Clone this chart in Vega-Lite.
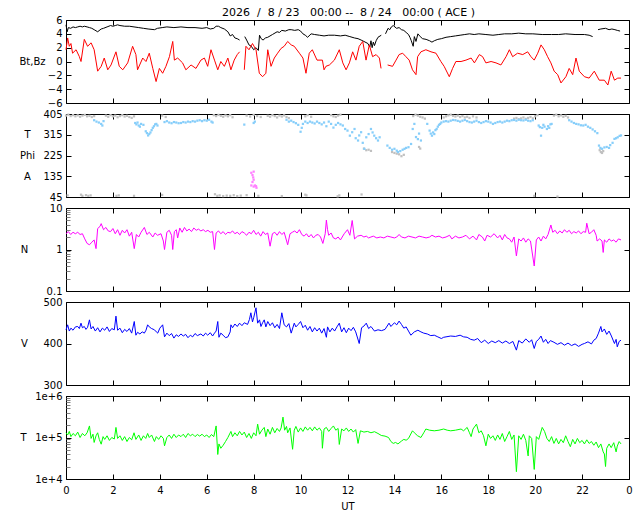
{
  "$schema": "https://vega.github.io/schema/vega-lite/v6.json",
  "background": "white",
  "padding": {"left": 18, "top": 6, "right": 5, "bottom": 5},
  "title": {
    "text": "2026\u00a0 /\u00a0 8 / 23\u00a0\u00a0 00:00 --\u00a0 8 / 24\u00a0\u00a0 00:00 ( ACE )",
    "font": "DejaVu Sans",
    "fontSize": 11,
    "fontWeight": "normal",
    "color": "black",
    "anchor": "middle",
    "dx": 23,
    "offset": -3
  },
  "datasets": {
    "bt": [
      {"t":0,"v":5.3},{"t":0.05,"v":4.3},{"t":0.1,"v":4.9},{"t":0.2,"v":4.8},{"t":0.3,"v":5.0},{"t":0.4,"v":4.9},{"t":0.5,"v":5.0},{"t":0.6,"v":5.1},{"t":0.7,"v":5.0},{"t":0.78,"v":5.1},{"t":0.9,"v":5.0},{"t":1.0,"v":4.9},{"t":1.1,"v":4.8},{"t":1.2,"v":4.6},{"t":1.35,"v":4.3},{"t":1.5,"v":4.7},{"t":1.6,"v":4.8},{"t":1.75,"v":5.0},{"t":1.9,"v":5.2},{"t":2.0,"v":5.1},{"t":2.1,"v":5.2},{"t":2.2,"v":5.3},{"t":2.3,"v":5.2},{"t":2.5,"v":5.1},{"t":2.7,"v":5.1},{"t":2.9,"v":5.0},{"t":3.1,"v":4.9},{"t":3.3,"v":4.8},{"t":3.5,"v":4.7},{"t":3.77,"v":4.6},{"t":3.9,"v":4.8},{"t":4.1,"v":4.9},{"t":4.3,"v":5.0},{"t":4.6,"v":4.9},{"t":4.9,"v":5.0},{"t":5.2,"v":4.9},{"t":5.5,"v":4.9},{"t":5.8,"v":4.8},{"t":6.0,"v":4.9},{"t":6.15,"v":4.7},{"t":6.3,"v":4.8},{"t":6.4,"v":5.1},{"t":6.5,"v":5.1},{"t":6.6,"v":4.9},{"t":6.75,"v":4.7},{"t":6.9,"v":4.3},{"t":7.0,"v":3.7},{"t":7.1,"v":3.9},{"t":7.2,"v":3.4},{"t":7.3,"v":3.3},{"t":7.4,"v":3.1},{"t":7.45,"v":null},{"t":7.62,"v":3.6},{"t":7.7,"v":3.1},{"t":7.8,"v":2.4},{"t":7.9,"v":2.2},{"t":8.0,"v":1.7},{"t":8.1,"v":2.0},{"t":8.2,"v":1.6},{"t":8.25,"v":3.8},{"t":8.32,"v":3.3},{"t":8.4,"v":3.1},{"t":8.5,"v":3.4},{"t":8.6,"v":3.5},{"t":8.8,"v":3.9},{"t":9.0,"v":4.3},{"t":9.1,"v":4.2},{"t":9.2,"v":4.5},{"t":9.35,"v":4.4},{"t":9.5,"v":4.6},{"t":9.6,"v":4.6},{"t":9.75,"v":4.5},{"t":9.9,"v":4.6},{"t":10.0,"v":4.4},{"t":10.1,"v":4.0},{"t":10.2,"v":3.8},{"t":10.3,"v":3.5},{"t":10.45,"v":4.0},{"t":10.6,"v":3.9},{"t":10.8,"v":3.8},{"t":11.0,"v":3.7},{"t":11.2,"v":3.8},{"t":11.44,"v":3.8},{"t":11.7,"v":3.7},{"t":11.9,"v":3.8},{"t":12.1,"v":3.6},{"t":12.3,"v":3.4},{"t":12.45,"v":3.3},{"t":12.58,"v":3.1},{"t":12.7,"v":2.9},{"t":12.87,"v":2.6},{"t":12.95,"v":2.1},{"t":13.0,"v":3.0},{"t":13.05,"v":2.0},{"t":13.1,"v":2.8},{"t":13.15,"v":2.3},{"t":13.22,"v":3.0},{"t":13.3,"v":3.5},{"t":13.44,"v":3.8},{"t":13.5,"v":null},{"t":13.62,"v":4.0},{"t":13.73,"v":4.8},{"t":13.8,"v":4.6},{"t":13.87,"v":5.0},{"t":13.95,"v":5.2},{"t":14.09,"v":4.8},{"t":14.2,"v":4.9},{"t":14.3,"v":4.6},{"t":14.4,"v":4.5},{"t":14.5,"v":4.2},{"t":14.6,"v":3.9},{"t":14.66,"v":3.5},{"t":14.72,"v":3.0},{"t":14.8,"v":2.2},{"t":14.85,"v":3.6},{"t":14.92,"v":2.9},{"t":15.0,"v":4.0},{"t":15.1,"v":3.6},{"t":15.2,"v":3.3},{"t":15.35,"v":3.2},{"t":15.5,"v":3.0},{"t":15.6,"v":2.8},{"t":15.7,"v":3.0},{"t":15.85,"v":3.2},{"t":16.0,"v":3.3},{"t":16.2,"v":3.5},{"t":16.4,"v":3.6},{"t":16.6,"v":3.7},{"t":16.8,"v":3.8},{"t":17.0,"v":3.9},{"t":17.2,"v":4.0},{"t":17.4,"v":3.9},{"t":17.6,"v":4.0},{"t":17.9,"v":3.9},{"t":18.2,"v":3.8},{"t":18.45,"v":3.9},{"t":18.7,"v":4.0},{"t":19.0,"v":4.0},{"t":19.3,"v":4.1},{"t":19.6,"v":4.0},{"t":19.9,"v":4.0},{"t":20.3,"v":3.9},{"t":20.7,"v":3.9},{"t":21.0,"v":3.9},{"t":21.3,"v":4.0},{"t":21.7,"v":3.9},{"t":22.1,"v":3.9},{"t":22.3,"v":3.8},{"t":22.45,"v":3.6},{"t":22.55,"v":null},{"t":22.68,"v":4.6},{"t":22.8,"v":4.7},{"t":23.0,"v":4.8},{"t":23.15,"v":4.6},{"t":23.27,"v":4.7},{"t":23.4,"v":4.6},{"t":23.5,"v":4.5},{"t":23.62,"v":4.4}
    ],
    "bz": [
      {"t":0,"v":1.7},{"t":0.07,"v":3.4},{"t":0.14,"v":2.2},{"t":0.21,"v":2.6},{"t":0.28,"v":1.2},{"t":0.43,"v":1.7},{"t":0.57,"v":0.7},{"t":0.64,"v":0},{"t":0.78,"v":3.2},{"t":0.92,"v":2.2},{"t":1.07,"v":2.7},{"t":1.2,"v":1.7},{"t":1.35,"v":-1.4},{"t":1.5,"v":-0.7},{"t":1.63,"v":0.5},{"t":1.78,"v":-1.2},{"t":1.92,"v":-0.5},{"t":2.13,"v":1.4},{"t":2.27,"v":-0.7},{"t":2.42,"v":-1.2},{"t":2.63,"v":-0.2},{"t":2.84,"v":2.2},{"t":2.98,"v":1.0},{"t":3.05,"v":-1.2},{"t":3.27,"v":0.5},{"t":3.41,"v":0},{"t":3.55,"v":1.2},{"t":3.7,"v":-1.0},{"t":3.84,"v":-2.9},{"t":3.98,"v":-1.0},{"t":4.12,"v":-1.7},{"t":4.26,"v":-0.7},{"t":4.41,"v":0.7},{"t":4.55,"v":2.9},{"t":4.62,"v":0.2},{"t":4.76,"v":0.5},{"t":4.97,"v":-0.2},{"t":5.11,"v":-1.2},{"t":5.33,"v":-0.5},{"t":5.54,"v":-1.0},{"t":5.75,"v":0.2},{"t":5.9,"v":0.5},{"t":6.04,"v":-0.7},{"t":6.18,"v":1.7},{"t":6.33,"v":0.2},{"t":6.47,"v":-1.2},{"t":6.6,"v":0},{"t":6.75,"v":-0.7},{"t":6.9,"v":0.5},{"t":7.03,"v":-1.2},{"t":7.17,"v":0.2},{"t":7.3,"v":1.0},{"t":7.4,"v":1.4},{"t":7.5,"v":null},{"t":7.6,"v":-1.2},{"t":7.67,"v":2.2},{"t":7.8,"v":1.7},{"t":7.95,"v":2.6},{"t":8.1,"v":1.7},{"t":8.24,"v":-1.7},{"t":8.38,"v":-2.2},{"t":8.52,"v":-1.7},{"t":8.6,"v":1.7},{"t":8.74,"v":-0.7},{"t":8.88,"v":0.5},{"t":9.02,"v":1.2},{"t":9.17,"v":1.9},{"t":9.3,"v":2.2},{"t":9.45,"v":2.9},{"t":9.6,"v":2.4},{"t":9.73,"v":2.2},{"t":9.95,"v":1.2},{"t":10.1,"v":0.5},{"t":10.23,"v":-1.7},{"t":10.37,"v":1.2},{"t":10.5,"v":1.7},{"t":10.7,"v":0.2},{"t":10.93,"v":0.2},{"t":11.0,"v":-1.2},{"t":11.08,"v":-0.7},{"t":11.23,"v":-0.5},{"t":11.44,"v":0.2},{"t":11.65,"v":1.7},{"t":11.8,"v":-0.2},{"t":11.94,"v":-1.2},{"t":12.08,"v":-0.2},{"t":12.22,"v":1.4},{"t":12.36,"v":0.2},{"t":12.5,"v":2.2},{"t":12.65,"v":2.9},{"t":12.79,"v":0.2},{"t":12.93,"v":2.4},{"t":13.07,"v":0.7},{"t":13.22,"v":1.0},{"t":13.36,"v":0.5},{"t":13.43,"v":-1.0},{"t":13.55,"v":null},{"t":13.71,"v":-0.5},{"t":13.92,"v":-0.7},{"t":14.07,"v":0.2},{"t":14.2,"v":1.0},{"t":14.35,"v":1.2},{"t":14.49,"v":0.7},{"t":14.63,"v":0.2},{"t":14.77,"v":-1.2},{"t":14.92,"v":-1.9},{"t":14.99,"v":0.7},{"t":15.13,"v":1.4},{"t":15.34,"v":1.7},{"t":15.56,"v":1.4},{"t":15.77,"v":1.2},{"t":15.98,"v":0},{"t":16.12,"v":-0.7},{"t":16.34,"v":-2.2},{"t":16.48,"v":-1.0},{"t":16.62,"v":0},{"t":16.84,"v":0},{"t":17.05,"v":0.2},{"t":17.27,"v":0.5},{"t":17.41,"v":-0.2},{"t":17.62,"v":1.0},{"t":17.76,"v":0.7},{"t":17.9,"v":-0.2},{"t":18.12,"v":0},{"t":18.33,"v":-0.2},{"t":18.54,"v":-0.5},{"t":18.76,"v":0.7},{"t":18.9,"v":1.7},{"t":19.04,"v":0.7},{"t":19.25,"v":1.2},{"t":19.47,"v":1.0},{"t":19.68,"v":1.4},{"t":19.82,"v":0.7},{"t":19.96,"v":0.2},{"t":20.11,"v":1.2},{"t":20.25,"v":2.4},{"t":20.39,"v":1.7},{"t":20.53,"v":0.7},{"t":20.67,"v":-0.2},{"t":20.81,"v":-1.4},{"t":20.96,"v":-1.9},{"t":21.1,"v":-3.1},{"t":21.31,"v":-2.2},{"t":21.45,"v":-1.0},{"t":21.6,"v":-1.9},{"t":21.74,"v":0.5},{"t":21.88,"v":-1.4},{"t":22.1,"v":-2.2},{"t":22.3,"v":-2.4},{"t":22.52,"v":-1.4},{"t":22.73,"v":-2.7},{"t":22.95,"v":-2.7},{"t":23.1,"v":-3.4},{"t":23.24,"v":-1.4},{"t":23.38,"v":-2.7},{"t":23.52,"v":-2.4},{"t":23.66,"v":-2.4}
    ],
    "phi": [
      {"t":0,"v":398,"c":"g"},{"t":0.1,"v":402,"c":"g"},{"t":0.2,"v":396,"c":"g"},{"t":0.3,"v":400,"c":"g"},{"t":0.4,"v":395,"c":"g"},{"t":0.5,"v":399,"c":"g"},{"t":0.6,"v":393,"c":"g"},{"t":0.7,"v":398,"c":"g"},{"t":0.8,"v":401,"c":"g"},{"t":0.9,"v":395,"c":"g"},{"t":1.0,"v":397,"c":"g"},{"t":1.1,"v":392,"c":"g"},{"t":1.2,"v":396,"c":"g"},{"t":1.7,"v":398,"c":"g"},{"t":1.8,"v":393,"c":"g"},{"t":1.9,"v":400,"c":"g"},{"t":2.0,"v":395,"c":"g"},{"t":2.1,"v":398,"c":"g"},{"t":2.2,"v":391,"c":"g"},{"t":2.3,"v":396,"c":"g"},{"t":2.4,"v":400,"c":"g"},{"t":2.5,"v":394,"c":"g"},{"t":2.6,"v":397,"c":"g"},{"t":2.7,"v":392,"c":"g"},{"t":2.8,"v":388,"c":"g"},{"t":2.9,"v":395,"c":"g"},{"t":4.1,"v":398,"c":"g"},{"t":4.25,"v":392,"c":"g"},{"t":6.3,"v":400,"c":"g"},{"t":6.4,"v":396,"c":"g"},{"t":6.5,"v":401,"c":"g"},{"t":6.6,"v":397,"c":"g"},{"t":6.7,"v":393,"c":"g"},{"t":6.8,"v":399,"c":"g"},{"t":6.9,"v":395,"c":"g"},{"t":7.0,"v":400,"c":"g"},{"t":7.1,"v":391,"c":"g"},{"t":7.7,"v":398,"c":"g"},{"t":7.85,"v":394,"c":"g"},{"t":8.0,"v":401,"c":"g"},{"t":8.15,"v":396,"c":"g"},{"t":8.3,"v":392,"c":"g"},{"t":8.6,"v":397,"c":"g"},{"t":8.7,"v":393,"c":"g"},{"t":8.8,"v":400,"c":"g"},{"t":8.9,"v":396,"c":"g"},{"t":9.0,"v":390,"c":"g"},{"t":9.1,"v":398,"c":"g"},{"t":9.2,"v":394,"c":"g"},{"t":9.3,"v":399,"c":"g"},{"t":9.4,"v":392,"c":"g"},{"t":9.5,"v":387,"c":"g"},{"t":10.2,"v":395,"c":"g"},{"t":10.3,"v":400,"c":"g"},{"t":10.45,"v":393,"c":"g"},{"t":11.3,"v":400,"c":"g"},{"t":11.4,"v":395,"c":"g"},{"t":11.5,"v":392,"c":"g"},{"t":11.6,"v":398,"c":"g"},{"t":11.7,"v":402,"c":"g"},{"t":12.7,"v":255,"c":"g"},{"t":12.8,"v":248,"c":"g"},{"t":12.9,"v":250,"c":"g"},{"t":13.0,"v":245,"c":"g"},{"t":13.9,"v":240,"c":"g"},{"t":14.0,"v":236,"c":"g"},{"t":14.1,"v":233,"c":"g"},{"t":14.2,"v":230,"c":"g"},{"t":14.3,"v":222,"c":"g"},{"t":14.4,"v":228,"c":"g"},{"t":14.8,"v":396,"c":"g"},{"t":14.9,"v":402,"c":"g"},{"t":15.0,"v":398,"c":"g"},{"t":15.1,"v":393,"c":"g"},{"t":15.2,"v":390,"c":"g"},{"t":15.3,"v":385,"c":"g"},{"t":15.1,"v":255,"c":"g"},{"t":15.05,"v":262,"c":"g"},{"t":16.1,"v":390,"c":"g"},{"t":16.2,"v":395,"c":"g"},{"t":16.3,"v":399,"c":"g"},{"t":16.4,"v":402,"c":"g"},{"t":16.5,"v":397,"c":"g"},{"t":16.6,"v":394,"c":"g"},{"t":16.7,"v":398,"c":"g"},{"t":16.8,"v":392,"c":"g"},{"t":16.9,"v":396,"c":"g"},{"t":17.0,"v":390,"c":"g"},{"t":17.1,"v":393,"c":"g"},{"t":17.2,"v":388,"c":"g"},{"t":17.35,"v":395,"c":"g"},{"t":17.5,"v":390,"c":"g"},{"t":19.1,"v":385,"c":"g"},{"t":19.2,"v":388,"c":"g"},{"t":19.3,"v":383,"c":"g"},{"t":19.4,"v":386,"c":"g"},{"t":19.5,"v":390,"c":"g"},{"t":19.6,"v":384,"c":"g"},{"t":19.7,"v":388,"c":"g"},{"t":19.8,"v":392,"c":"g"},{"t":19.9,"v":386,"c":"g"},{"t":20.0,"v":395,"c":"g"},{"t":20.1,"v":400,"c":"g"},{"t":20.8,"v":398,"c":"g"},{"t":20.9,"v":402,"c":"g"},{"t":21.0,"v":395,"c":"g"},{"t":21.1,"v":399,"c":"g"},{"t":21.2,"v":393,"c":"g"},{"t":21.3,"v":397,"c":"g"},{"t":21.4,"v":390,"c":"g"},{"t":22.75,"v":248,"c":"g"},{"t":22.8,"v":240,"c":"g"},{"t":22.85,"v":236,"c":"g"},{"t":22.9,"v":244,"c":"g"},
      {"t":0.07,"v":52,"c":"g"},{"t":0.64,"v":55,"c":"g"},{"t":0.7,"v":50,"c":"g"},{"t":0.85,"v":53,"c":"g"},{"t":0.95,"v":50,"c":"g"},{"t":1.05,"v":52,"c":"g"},{"t":2.15,"v":50,"c":"g"},{"t":2.25,"v":52,"c":"g"},{"t":2.9,"v":50,"c":"g"},{"t":4.1,"v":54,"c":"g"},{"t":6.35,"v":57,"c":"g"},{"t":6.45,"v":50,"c":"g"},{"t":6.55,"v":52,"c":"g"},{"t":6.7,"v":49,"c":"g"},{"t":6.85,"v":51,"c":"g"},{"t":7.0,"v":50,"c":"g"},{"t":7.15,"v":53,"c":"g"},{"t":7.3,"v":49,"c":"g"},{"t":7.45,"v":51,"c":"g"},{"t":7.7,"v":53,"c":"g"},{"t":8.2,"v":50,"c":"g"},{"t":9.2,"v":49,"c":"g"},{"t":10.2,"v":55,"c":"g"},{"t":10.25,"v":52,"c":"g"},{"t":11.58,"v":48,"c":"g"},{"t":11.65,"v":52,"c":"g"},{"t":12.6,"v":56,"c":"g"},{"t":19.96,"v":50,"c":"g"},{"t":20.95,"v":47,"c":"g"},
      {"t":1.2,"v":378,"c":"b"},{"t":1.3,"v":372,"c":"b"},{"t":1.4,"v":368,"c":"b"},{"t":1.5,"v":362,"c":"b"},{"t":1.55,"v":355,"c":"b"},{"t":1.6,"v":374,"c":"b"},{"t":2.95,"v":366,"c":"b"},{"t":3.0,"v":360,"c":"b"},{"t":3.05,"v":368,"c":"b"},{"t":3.1,"v":355,"c":"b"},{"t":3.15,"v":350,"c":"b"},{"t":3.2,"v":362,"c":"b"},{"t":3.3,"v":358,"c":"b"},{"t":3.4,"v":330,"c":"b"},{"t":3.45,"v":322,"c":"b"},{"t":3.5,"v":312,"c":"b"},{"t":3.55,"v":318,"c":"b"},{"t":3.6,"v":325,"c":"b"},{"t":3.65,"v":335,"c":"b"},{"t":3.7,"v":345,"c":"b"},{"t":3.75,"v":352,"c":"b"},{"t":3.8,"v":360,"c":"b"},{"t":3.85,"v":362,"c":"b"},{"t":3.9,"v":355,"c":"b"},{"t":4.2,"v":370,"c":"b"},{"t":4.3,"v":374,"c":"b"},{"t":4.4,"v":368,"c":"b"},{"t":4.5,"v":365,"c":"b"},{"t":4.6,"v":370,"c":"b"},{"t":4.7,"v":368,"c":"b"},{"t":4.8,"v":365,"c":"b"},{"t":4.9,"v":366,"c":"b"},{"t":5.0,"v":370,"c":"b"},{"t":5.1,"v":368,"c":"b"},{"t":5.2,"v":372,"c":"b"},{"t":5.3,"v":370,"c":"b"},{"t":5.4,"v":374,"c":"b"},{"t":5.5,"v":372,"c":"b"},{"t":5.6,"v":376,"c":"b"},{"t":5.7,"v":378,"c":"b"},{"t":5.8,"v":374,"c":"b"},{"t":5.9,"v":378,"c":"b"},{"t":6.0,"v":376,"c":"b"},{"t":6.1,"v":380,"c":"b"},{"t":6.2,"v":372,"c":"b"},{"t":6.25,"v":368,"c":"b"},{"t":7.6,"v":359,"c":"b"},{"t":8.0,"v":366,"c":"b"},{"t":8.05,"v":372,"c":"b"},{"t":9.4,"v":380,"c":"b"},{"t":9.5,"v":372,"c":"b"},{"t":9.6,"v":376,"c":"b"},{"t":9.7,"v":370,"c":"b"},{"t":9.8,"v":365,"c":"b"},{"t":9.9,"v":358,"c":"b"},{"t":10.0,"v":328,"c":"b"},{"t":10.05,"v":345,"c":"b"},{"t":10.1,"v":362,"c":"b"},{"t":10.2,"v":372,"c":"b"},{"t":10.3,"v":366,"c":"b"},{"t":10.4,"v":372,"c":"b"},{"t":10.5,"v":368,"c":"b"},{"t":10.6,"v":364,"c":"b"},{"t":10.7,"v":372,"c":"b"},{"t":10.8,"v":366,"c":"b"},{"t":10.9,"v":360,"c":"b"},{"t":11.0,"v":368,"c":"b"},{"t":11.1,"v":352,"c":"b"},{"t":11.2,"v":372,"c":"b"},{"t":11.3,"v":362,"c":"b"},{"t":11.4,"v":346,"c":"b"},{"t":11.5,"v":358,"c":"b"},{"t":11.6,"v":366,"c":"b"},{"t":11.7,"v":360,"c":"b"},{"t":11.8,"v":355,"c":"b"},{"t":11.9,"v":340,"c":"b"},{"t":12.0,"v":333,"c":"b"},{"t":12.1,"v":311,"c":"b"},{"t":12.2,"v":326,"c":"b"},{"t":12.3,"v":340,"c":"b"},{"t":12.35,"v":300,"c":"b"},{"t":12.45,"v":290,"c":"b"},{"t":12.5,"v":312,"c":"b"},{"t":12.58,"v":326,"c":"b"},{"t":12.65,"v":280,"c":"b"},{"t":12.72,"v":254,"c":"b"},{"t":12.8,"v":304,"c":"b"},{"t":12.9,"v":318,"c":"b"},{"t":13.0,"v":340,"c":"b"},{"t":13.07,"v":325,"c":"b"},{"t":13.14,"v":311,"c":"b"},{"t":13.22,"v":300,"c":"b"},{"t":13.3,"v":290,"c":"b"},{"t":13.37,"v":304,"c":"b"},{"t":13.7,"v":268,"c":"b"},{"t":13.8,"v":258,"c":"b"},{"t":13.9,"v":250,"c":"b"},{"t":14.0,"v":254,"c":"b"},{"t":14.1,"v":246,"c":"b"},{"t":14.15,"v":240,"c":"b"},{"t":14.25,"v":244,"c":"b"},{"t":14.35,"v":250,"c":"b"},{"t":14.43,"v":254,"c":"b"},{"t":14.5,"v":258,"c":"b"},{"t":14.6,"v":261,"c":"b"},{"t":14.71,"v":275,"c":"b"},{"t":14.78,"v":340,"c":"b"},{"t":14.85,"v":362,"c":"b"},{"t":14.92,"v":305,"c":"b"},{"t":15.0,"v":296,"c":"b"},{"t":15.05,"v":320,"c":"b"},{"t":15.13,"v":290,"c":"b"},{"t":15.4,"v":362,"c":"b"},{"t":15.5,"v":333,"c":"b"},{"t":15.55,"v":320,"c":"b"},{"t":15.6,"v":311,"c":"b"},{"t":15.65,"v":325,"c":"b"},{"t":15.7,"v":318,"c":"b"},{"t":15.75,"v":335,"c":"b"},{"t":15.8,"v":340,"c":"b"},{"t":15.85,"v":350,"c":"b"},{"t":15.9,"v":358,"c":"b"},{"t":15.95,"v":362,"c":"b"},{"t":16.0,"v":368,"c":"b"},{"t":16.1,"v":372,"c":"b"},{"t":16.2,"v":374,"c":"b"},{"t":16.3,"v":372,"c":"b"},{"t":16.4,"v":376,"c":"b"},{"t":16.5,"v":379,"c":"b"},{"t":16.6,"v":378,"c":"b"},{"t":16.7,"v":375,"c":"b"},{"t":16.8,"v":372,"c":"b"},{"t":16.9,"v":376,"c":"b"},{"t":17.0,"v":379,"c":"b"},{"t":17.1,"v":374,"c":"b"},{"t":17.2,"v":370,"c":"b"},{"t":17.3,"v":368,"c":"b"},{"t":17.4,"v":372,"c":"b"},{"t":17.5,"v":376,"c":"b"},{"t":17.6,"v":370,"c":"b"},{"t":17.7,"v":366,"c":"b"},{"t":17.8,"v":370,"c":"b"},{"t":17.9,"v":374,"c":"b"},{"t":18.0,"v":372,"c":"b"},{"t":18.1,"v":368,"c":"b"},{"t":18.2,"v":362,"c":"b"},{"t":18.3,"v":366,"c":"b"},{"t":18.4,"v":370,"c":"b"},{"t":18.5,"v":372,"c":"b"},{"t":18.6,"v":368,"c":"b"},{"t":18.7,"v":372,"c":"b"},{"t":18.8,"v":376,"c":"b"},{"t":18.9,"v":374,"c":"b"},{"t":19.0,"v":378,"c":"b"},{"t":19.1,"v":379,"c":"b"},{"t":19.2,"v":376,"c":"b"},{"t":19.3,"v":380,"c":"b"},{"t":19.4,"v":378,"c":"b"},{"t":19.5,"v":377,"c":"b"},{"t":19.6,"v":380,"c":"b"},{"t":19.7,"v":376,"c":"b"},{"t":19.8,"v":374,"c":"b"},{"t":19.9,"v":378,"c":"b"},{"t":20.15,"v":355,"c":"b"},{"t":20.2,"v":348,"c":"b"},{"t":20.25,"v":311,"c":"b"},{"t":20.3,"v":345,"c":"b"},{"t":20.35,"v":358,"c":"b"},{"t":20.4,"v":350,"c":"b"},{"t":20.5,"v":340,"c":"b"},{"t":20.55,"v":352,"c":"b"},{"t":20.6,"v":345,"c":"b"},{"t":20.65,"v":360,"c":"b"},{"t":20.7,"v":362,"c":"b"},{"t":21.45,"v":378,"c":"b"},{"t":21.55,"v":372,"c":"b"},{"t":21.65,"v":366,"c":"b"},{"t":21.75,"v":362,"c":"b"},{"t":21.85,"v":360,"c":"b"},{"t":21.95,"v":356,"c":"b"},{"t":22.05,"v":355,"c":"b"},{"t":22.15,"v":358,"c":"b"},{"t":22.25,"v":350,"c":"b"},{"t":22.35,"v":345,"c":"b"},{"t":22.45,"v":338,"c":"b"},{"t":22.55,"v":330,"c":"b"},{"t":22.65,"v":322,"c":"b"},{"t":22.72,"v":268,"c":"b"},{"t":22.78,"v":258,"c":"b"},{"t":22.85,"v":254,"c":"b"},{"t":22.95,"v":260,"c":"b"},{"t":23.05,"v":262,"c":"b"},{"t":23.15,"v":258,"c":"b"},{"t":23.2,"v":270,"c":"b"},{"t":23.3,"v":280,"c":"b"},{"t":23.38,"v":297,"c":"b"},{"t":23.45,"v":300,"c":"b"},{"t":23.52,"v":304,"c":"b"},{"t":23.6,"v":310,"c":"b"},{"t":23.66,"v":312,"c":"b"},
      {"t":7.9,"v":150,"c":"a"},{"t":7.95,"v":140,"c":"a"},{"t":7.98,"v":130,"c":"a"},{"t":8.0,"v":120,"c":"a"},{"t":7.95,"v":110,"c":"a"},{"t":7.9,"v":95,"c":"a"},{"t":8.0,"v":90,"c":"a"},{"t":8.05,"v":95,"c":"a"},{"t":8.1,"v":92,"c":"a"},{"t":8.12,"v":85,"c":"a"},{"t":8.0,"v":155,"c":"a"}
    ],
    "n": [
      {"t":0,"v":2.4},{"t":0.1,"v":2.7},{"t":0.2,"v":2.3},{"t":0.3,"v":2.6},{"t":0.4,"v":2.4},{"t":0.5,"v":2.6},{"t":0.6,"v":2.3},{"t":0.7,"v":2.4},{"t":0.8,"v":1.8},{"t":0.9,"v":1.4},{"t":1.0,"v":1.3},{"t":1.1,"v":1.5},{"t":1.2,"v":1.7},{"t":1.28,"v":1.05},{"t":1.35,"v":3.2},{"t":1.45,"v":3.6},{"t":1.5,"v":4.2},{"t":1.6,"v":3.0},{"t":1.7,"v":3.4},{"t":1.8,"v":2.8},{"t":1.9,"v":2.7},{"t":2.0,"v":3.2},{"t":2.1,"v":2.4},{"t":2.2,"v":3.0},{"t":2.3,"v":2.2},{"t":2.4,"v":2.9},{"t":2.5,"v":2.5},{"t":2.6,"v":3.0},{"t":2.7,"v":2.1},{"t":2.8,"v":2.6},{"t":2.91,"v":1.05},{"t":3.0,"v":2.3},{"t":3.1,"v":2.0},{"t":3.2,"v":2.6},{"t":3.34,"v":3.4},{"t":3.45,"v":2.3},{"t":3.55,"v":2.6},{"t":3.7,"v":2.0},{"t":3.8,"v":2.5},{"t":3.9,"v":2.2},{"t":4.05,"v":2.4},{"t":4.15,"v":1.6},{"t":4.2,"v":1.0},{"t":4.3,"v":2.6},{"t":4.4,"v":2.9},{"t":4.5,"v":2.2},{"t":4.55,"v":1.0},{"t":4.62,"v":2.7},{"t":4.7,"v":3.0},{"t":4.76,"v":1.9},{"t":4.85,"v":3.3},{"t":4.95,"v":2.6},{"t":5.05,"v":3.4},{"t":5.15,"v":2.8},{"t":5.25,"v":3.1},{"t":5.35,"v":2.7},{"t":5.45,"v":3.3},{"t":5.55,"v":2.9},{"t":5.65,"v":3.1},{"t":5.75,"v":2.8},{"t":5.85,"v":3.0},{"t":5.95,"v":2.7},{"t":6.05,"v":2.9},{"t":6.15,"v":2.6},{"t":6.25,"v":2.7},{"t":6.33,"v":1.0},{"t":6.4,"v":2.5},{"t":6.5,"v":2.8},{"t":6.6,"v":2.4},{"t":6.7,"v":2.7},{"t":6.8,"v":2.3},{"t":6.9,"v":2.6},{"t":7.0,"v":2.5},{"t":7.1,"v":2.8},{"t":7.2,"v":2.4},{"t":7.3,"v":2.6},{"t":7.4,"v":2.3},{"t":7.5,"v":2.7},{"t":7.6,"v":2.5},{"t":7.7,"v":2.2},{"t":7.8,"v":2.6},{"t":7.9,"v":2.4},{"t":8.0,"v":2.9},{"t":8.1,"v":2.3},{"t":8.2,"v":2.6},{"t":8.3,"v":2.1},{"t":8.4,"v":2.7},{"t":8.5,"v":2.3},{"t":8.6,"v":2.5},{"t":8.7,"v":1.2},{"t":8.8,"v":2.4},{"t":8.9,"v":2.6},{"t":9.0,"v":2.2},{"t":9.1,"v":2.7},{"t":9.2,"v":2.3},{"t":9.3,"v":2.6},{"t":9.45,"v":1.3},{"t":9.55,"v":2.4},{"t":9.65,"v":2.6},{"t":9.75,"v":2.8},{"t":9.85,"v":2.5},{"t":9.95,"v":3.0},{"t":10.05,"v":2.3},{"t":10.15,"v":2.1},{"t":10.25,"v":2.4},{"t":10.35,"v":2.0},{"t":10.45,"v":2.3},{"t":10.55,"v":1.9},{"t":10.65,"v":2.2},{"t":10.75,"v":2.3},{"t":10.85,"v":2.0},{"t":10.95,"v":1.4},{"t":11.05,"v":2.4},{"t":11.1,"v":5.1},{"t":11.15,"v":3.0},{"t":11.2,"v":2.2},{"t":11.3,"v":2.5},{"t":11.4,"v":1.9},{"t":11.5,"v":1.8},{"t":11.6,"v":2.0},{"t":11.7,"v":1.7},{"t":11.86,"v":2.4},{"t":12.0,"v":3.0},{"t":12.1,"v":2.2},{"t":12.2,"v":5.0},{"t":12.3,"v":1.8},{"t":12.43,"v":2.1},{"t":12.58,"v":2.2},{"t":12.7,"v":2.0},{"t":12.8,"v":2.1},{"t":12.9,"v":1.9},{"t":13.0,"v":2.0},{"t":13.1,"v":2.1},{"t":13.25,"v":1.9},{"t":13.4,"v":2.0},{"t":13.55,"v":1.9},{"t":13.7,"v":2.1},{"t":13.85,"v":2.0},{"t":14.0,"v":1.9},{"t":14.1,"v":2.0},{"t":14.2,"v":2.3},{"t":14.3,"v":2.0},{"t":14.45,"v":1.9},{"t":14.6,"v":2.1},{"t":14.75,"v":2.0},{"t":14.9,"v":1.9},{"t":15.05,"v":2.1},{"t":15.2,"v":2.0},{"t":15.35,"v":1.9},{"t":15.5,"v":2.0},{"t":15.6,"v":2.2},{"t":15.75,"v":2.0},{"t":15.9,"v":2.1},{"t":16.05,"v":1.9},{"t":16.2,"v":2.0},{"t":16.35,"v":2.2},{"t":16.45,"v":1.8},{"t":16.6,"v":2.1},{"t":16.75,"v":1.9},{"t":16.9,"v":2.0},{"t":17.05,"v":2.2},{"t":17.2,"v":1.8},{"t":17.35,"v":2.1},{"t":17.5,"v":1.7},{"t":17.6,"v":2.3},{"t":17.75,"v":2.0},{"t":17.85,"v":1.6},{"t":17.95,"v":2.2},{"t":18.1,"v":2.0},{"t":18.25,"v":2.4},{"t":18.4,"v":1.9},{"t":18.5,"v":2.2},{"t":18.6,"v":1.7},{"t":18.7,"v":2.3},{"t":18.8,"v":1.9},{"t":18.9,"v":1.8},{"t":19.0,"v":1.5},{"t":19.1,"v":2.0},{"t":19.2,"v":0.7},{"t":19.3,"v":1.8},{"t":19.4,"v":1.6},{"t":19.5,"v":1.9},{"t":19.6,"v":1.5},{"t":19.7,"v":1.8},{"t":19.8,"v":1.6},{"t":19.96,"v":0.4},{"t":20.05,"v":1.7},{"t":20.15,"v":2.0},{"t":20.25,"v":1.6},{"t":20.35,"v":2.1},{"t":20.45,"v":1.8},{"t":20.55,"v":2.3},{"t":20.67,"v":3.9},{"t":20.75,"v":2.6},{"t":20.85,"v":2.9},{"t":20.95,"v":2.4},{"t":21.05,"v":2.8},{"t":21.15,"v":2.5},{"t":21.25,"v":3.0},{"t":21.35,"v":2.6},{"t":21.45,"v":2.9},{"t":21.55,"v":2.4},{"t":21.65,"v":2.7},{"t":21.75,"v":2.5},{"t":21.85,"v":2.8},{"t":21.95,"v":2.4},{"t":22.05,"v":2.7},{"t":22.15,"v":2.6},{"t":22.2,"v":4.3},{"t":22.3,"v":2.4},{"t":22.4,"v":2.6},{"t":22.5,"v":3.0},{"t":22.6,"v":2.2},{"t":22.64,"v":1.6},{"t":22.75,"v":1.8},{"t":22.85,"v":1.6},{"t":22.9,"v":0.85},{"t":22.95,"v":1.7},{"t":23.05,"v":1.5},{"t":23.15,"v":1.8},{"t":23.25,"v":1.6},{"t":23.35,"v":1.7},{"t":23.45,"v":1.5},{"t":23.55,"v":1.8},{"t":23.66,"v":1.7}
    ],
    "vel": [
      {"t":0,"v":433},{"t":0.07,"v":445},{"t":0.14,"v":430},{"t":0.21,"v":437},{"t":0.3,"v":432},{"t":0.4,"v":440},{"t":0.5,"v":441},{"t":0.57,"v":436},{"t":0.64,"v":449},{"t":0.7,"v":438},{"t":0.78,"v":441},{"t":0.85,"v":434},{"t":0.92,"v":439},{"t":1.0,"v":457},{"t":1.07,"v":435},{"t":1.15,"v":441},{"t":1.25,"v":430},{"t":1.35,"v":438},{"t":1.45,"v":428},{"t":1.55,"v":437},{"t":1.65,"v":432},{"t":1.75,"v":440},{"t":1.85,"v":429},{"t":1.95,"v":436},{"t":2.06,"v":433},{"t":2.13,"v":466},{"t":2.2,"v":432},{"t":2.3,"v":437},{"t":2.4,"v":426},{"t":2.5,"v":434},{"t":2.6,"v":429},{"t":2.7,"v":436},{"t":2.8,"v":425},{"t":2.91,"v":453},{"t":2.98,"v":420},{"t":3.05,"v":427},{"t":3.15,"v":423},{"t":3.25,"v":428},{"t":3.34,"v":425},{"t":3.41,"v":432},{"t":3.48,"v":445},{"t":3.55,"v":440},{"t":3.65,"v":436},{"t":3.77,"v":433},{"t":3.85,"v":428},{"t":3.91,"v":425},{"t":4.0,"v":437},{"t":4.12,"v":445},{"t":4.2,"v":416},{"t":4.3,"v":425},{"t":4.4,"v":419},{"t":4.5,"v":424},{"t":4.6,"v":413},{"t":4.7,"v":421},{"t":4.8,"v":417},{"t":4.9,"v":423},{"t":5.0,"v":418},{"t":5.1,"v":422},{"t":5.2,"v":414},{"t":5.3,"v":420},{"t":5.4,"v":416},{"t":5.5,"v":424},{"t":5.6,"v":419},{"t":5.75,"v":423},{"t":5.85,"v":418},{"t":5.95,"v":425},{"t":6.04,"v":420},{"t":6.15,"v":426},{"t":6.25,"v":418},{"t":6.33,"v":425},{"t":6.4,"v":430},{"t":6.47,"v":453},{"t":6.52,"v":415},{"t":6.6,"v":425},{"t":6.7,"v":420},{"t":6.8,"v":414},{"t":6.9,"v":416},{"t":7.0,"v":428},{"t":7.03,"v":445},{"t":7.1,"v":438},{"t":7.2,"v":447},{"t":7.3,"v":441},{"t":7.4,"v":449},{"t":7.5,"v":443},{"t":7.6,"v":450},{"t":7.74,"v":446},{"t":7.82,"v":458},{"t":7.88,"v":474},{"t":7.95,"v":452},{"t":8.0,"v":462},{"t":8.1,"v":486},{"t":8.17,"v":449},{"t":8.25,"v":457},{"t":8.31,"v":441},{"t":8.38,"v":450},{"t":8.45,"v":457},{"t":8.52,"v":440},{"t":8.6,"v":453},{"t":8.7,"v":443},{"t":8.8,"v":450},{"t":8.9,"v":438},{"t":9.0,"v":446},{"t":9.1,"v":436},{"t":9.2,"v":474},{"t":9.3,"v":445},{"t":9.4,"v":440},{"t":9.5,"v":448},{"t":9.6,"v":425},{"t":9.73,"v":449},{"t":9.8,"v":440},{"t":9.9,"v":446},{"t":10.0,"v":453},{"t":10.1,"v":438},{"t":10.2,"v":444},{"t":10.3,"v":432},{"t":10.4,"v":441},{"t":10.5,"v":428},{"t":10.6,"v":438},{"t":10.7,"v":430},{"t":10.8,"v":437},{"t":10.9,"v":425},{"t":11.0,"v":436},{"t":11.1,"v":415},{"t":11.15,"v":440},{"t":11.25,"v":428},{"t":11.35,"v":437},{"t":11.45,"v":430},{"t":11.55,"v":440},{"t":11.65,"v":449},{"t":11.75,"v":428},{"t":11.85,"v":438},{"t":11.95,"v":426},{"t":12.05,"v":437},{"t":12.15,"v":431},{"t":12.25,"v":439},{"t":12.35,"v":428},{"t":12.5,"v":400},{"t":12.6,"v":438},{"t":12.7,"v":442},{"t":12.8,"v":449},{"t":12.9,"v":436},{"t":13.0,"v":441},{"t":13.15,"v":430},{"t":13.3,"v":433},{"t":13.45,"v":431},{"t":13.6,"v":434},{"t":13.77,"v":449},{"t":13.85,"v":441},{"t":14.0,"v":450},{"t":14.1,"v":445},{"t":14.2,"v":454},{"t":14.3,"v":446},{"t":14.4,"v":437},{"t":14.5,"v":440},{"t":14.6,"v":430},{"t":14.7,"v":420},{"t":14.85,"v":428},{"t":15.0,"v":432},{"t":15.13,"v":428},{"t":15.25,"v":425},{"t":15.4,"v":423},{"t":15.55,"v":419},{"t":15.7,"v":420},{"t":15.85,"v":416},{"t":16.0,"v":412},{"t":16.1,"v":415},{"t":16.2,"v":416},{"t":16.4,"v":418},{"t":16.6,"v":417},{"t":16.8,"v":420},{"t":16.95,"v":416},{"t":17.1,"v":415},{"t":17.25,"v":410},{"t":17.4,"v":408},{"t":17.55,"v":412},{"t":17.7,"v":402},{"t":17.85,"v":408},{"t":18.0,"v":400},{"t":18.15,"v":406},{"t":18.3,"v":402},{"t":18.45,"v":407},{"t":18.6,"v":401},{"t":18.75,"v":406},{"t":18.9,"v":400},{"t":19.05,"v":405},{"t":19.2,"v":384},{"t":19.3,"v":407},{"t":19.45,"v":401},{"t":19.6,"v":411},{"t":19.75,"v":403},{"t":19.85,"v":409},{"t":19.96,"v":388},{"t":20.05,"v":405},{"t":20.15,"v":410},{"t":20.25,"v":418},{"t":20.35,"v":403},{"t":20.45,"v":410},{"t":20.55,"v":400},{"t":20.65,"v":407},{"t":20.8,"v":403},{"t":20.95,"v":398},{"t":21.1,"v":402},{"t":21.25,"v":396},{"t":21.4,"v":401},{"t":21.55,"v":395},{"t":21.7,"v":399},{"t":21.85,"v":393},{"t":22.0,"v":398},{"t":22.1,"v":400},{"t":22.25,"v":404},{"t":22.4,"v":399},{"t":22.5,"v":408},{"t":22.6,"v":412},{"t":22.7,"v":425},{"t":22.8,"v":441},{"t":22.85,"v":428},{"t":22.95,"v":435},{"t":23.05,"v":422},{"t":23.15,"v":430},{"t":23.25,"v":418},{"t":23.38,"v":400},{"t":23.45,"v":410},{"t":23.5,"v":392},{"t":23.58,"v":405},{"t":23.66,"v":408}
    ],
    "temp": [
      {"t":0,"v":130000},{"t":0.07,"v":115000},{"t":0.14,"v":140000},{"t":0.21,"v":105000},{"t":0.3,"v":125000},{"t":0.4,"v":110000},{"t":0.5,"v":135000},{"t":0.6,"v":100000},{"t":0.7,"v":125000},{"t":0.8,"v":110000},{"t":0.9,"v":130000},{"t":1.0,"v":190000},{"t":1.07,"v":95000},{"t":1.15,"v":120000},{"t":1.2,"v":76000},{"t":1.28,"v":110000},{"t":1.35,"v":130000},{"t":1.42,"v":90000},{"t":1.5,"v":69000},{"t":1.58,"v":105000},{"t":1.65,"v":90000},{"t":1.75,"v":110000},{"t":1.85,"v":85000},{"t":1.95,"v":100000},{"t":2.06,"v":92000},{"t":2.13,"v":175000},{"t":2.2,"v":95000},{"t":2.3,"v":110000},{"t":2.4,"v":85000},{"t":2.5,"v":105000},{"t":2.6,"v":80000},{"t":2.7,"v":100000},{"t":2.8,"v":88000},{"t":2.9,"v":130000},{"t":2.98,"v":90000},{"t":3.1,"v":115000},{"t":3.2,"v":85000},{"t":3.3,"v":110000},{"t":3.4,"v":95000},{"t":3.48,"v":125000},{"t":3.55,"v":100000},{"t":3.65,"v":115000},{"t":3.77,"v":80000},{"t":3.85,"v":105000},{"t":3.95,"v":90000},{"t":4.05,"v":110000},{"t":4.15,"v":95000},{"t":4.2,"v":63000},{"t":4.3,"v":100000},{"t":4.4,"v":115000},{"t":4.5,"v":95000},{"t":4.6,"v":120000},{"t":4.7,"v":100000},{"t":4.8,"v":115000},{"t":4.9,"v":105000},{"t":5.0,"v":120000},{"t":5.1,"v":100000},{"t":5.2,"v":125000},{"t":5.3,"v":110000},{"t":5.4,"v":120000},{"t":5.5,"v":105000},{"t":5.6,"v":118000},{"t":5.7,"v":108000},{"t":5.8,"v":120000},{"t":5.9,"v":105000},{"t":6.0,"v":115000},{"t":6.1,"v":100000},{"t":6.2,"v":118000},{"t":6.3,"v":105000},{"t":6.4,"v":190000},{"t":6.47,"v":39000},{"t":6.52,"v":70000},{"t":6.6,"v":55000},{"t":6.7,"v":65000},{"t":6.8,"v":80000},{"t":6.9,"v":100000},{"t":7.03,"v":140000},{"t":7.1,"v":105000},{"t":7.2,"v":130000},{"t":7.3,"v":110000},{"t":7.4,"v":140000},{"t":7.5,"v":115000},{"t":7.6,"v":135000},{"t":7.7,"v":100000},{"t":7.8,"v":125000},{"t":7.9,"v":95000},{"t":8.0,"v":130000},{"t":8.1,"v":110000},{"t":8.17,"v":210000},{"t":8.25,"v":120000},{"t":8.35,"v":150000},{"t":8.45,"v":175000},{"t":8.52,"v":105000},{"t":8.6,"v":160000},{"t":8.7,"v":120000},{"t":8.8,"v":175000},{"t":8.9,"v":130000},{"t":9.0,"v":165000},{"t":9.1,"v":140000},{"t":9.17,"v":170000},{"t":9.25,"v":310000},{"t":9.32,"v":150000},{"t":9.4,"v":185000},{"t":9.45,"v":130000},{"t":9.55,"v":170000},{"t":9.66,"v":52000},{"t":9.73,"v":150000},{"t":9.8,"v":185000},{"t":9.9,"v":135000},{"t":10.0,"v":170000},{"t":10.1,"v":140000},{"t":10.2,"v":180000},{"t":10.3,"v":150000},{"t":10.4,"v":175000},{"t":10.5,"v":145000},{"t":10.6,"v":180000},{"t":10.7,"v":150000},{"t":10.8,"v":170000},{"t":10.9,"v":140000},{"t":10.93,"v":55000},{"t":11.0,"v":160000},{"t":11.1,"v":175000},{"t":11.2,"v":140000},{"t":11.3,"v":165000},{"t":11.4,"v":190000},{"t":11.5,"v":150000},{"t":11.6,"v":165000},{"t":11.65,"v":68000},{"t":11.75,"v":160000},{"t":11.85,"v":145000},{"t":11.95,"v":170000},{"t":12.05,"v":140000},{"t":12.15,"v":160000},{"t":12.25,"v":135000},{"t":12.35,"v":155000},{"t":12.45,"v":72000},{"t":12.55,"v":145000},{"t":12.7,"v":135000},{"t":12.85,"v":140000},{"t":13.0,"v":130000},{"t":13.15,"v":138000},{"t":13.3,"v":125000},{"t":13.44,"v":112000},{"t":13.6,"v":108000},{"t":13.75,"v":100000},{"t":13.85,"v":80000},{"t":13.95,"v":72000},{"t":14.05,"v":76000},{"t":14.15,"v":70000},{"t":14.3,"v":82000},{"t":14.4,"v":90000},{"t":14.5,"v":86000},{"t":14.6,"v":95000},{"t":14.77,"v":145000},{"t":14.85,"v":130000},{"t":14.99,"v":110000},{"t":15.13,"v":100000},{"t":15.25,"v":130000},{"t":15.34,"v":160000},{"t":15.5,"v":150000},{"t":15.7,"v":145000},{"t":15.9,"v":150000},{"t":16.1,"v":160000},{"t":16.25,"v":150000},{"t":16.4,"v":145000},{"t":16.6,"v":150000},{"t":16.84,"v":160000},{"t":16.95,"v":145000},{"t":17.1,"v":175000},{"t":17.2,"v":130000},{"t":17.27,"v":105000},{"t":17.35,"v":160000},{"t":17.5,"v":210000},{"t":17.6,"v":130000},{"t":17.7,"v":145000},{"t":17.8,"v":110000},{"t":17.9,"v":63000},{"t":18.0,"v":120000},{"t":18.1,"v":95000},{"t":18.2,"v":110000},{"t":18.3,"v":85000},{"t":18.4,"v":115000},{"t":18.5,"v":90000},{"t":18.6,"v":125000},{"t":18.7,"v":80000},{"t":18.8,"v":105000},{"t":18.9,"v":140000},{"t":19.0,"v":90000},{"t":19.1,"v":115000},{"t":19.2,"v":15000},{"t":19.3,"v":110000},{"t":19.4,"v":90000},{"t":19.5,"v":120000},{"t":19.6,"v":85000},{"t":19.7,"v":36000},{"t":19.75,"v":110000},{"t":19.85,"v":95000},{"t":19.96,"v":17000},{"t":20.05,"v":105000},{"t":20.15,"v":90000},{"t":20.3,"v":175000},{"t":20.4,"v":140000},{"t":20.5,"v":95000},{"t":20.6,"v":80000},{"t":20.7,"v":105000},{"t":20.8,"v":72000},{"t":20.9,"v":95000},{"t":21.0,"v":70000},{"t":21.1,"v":90000},{"t":21.2,"v":75000},{"t":21.3,"v":110000},{"t":21.4,"v":80000},{"t":21.5,"v":60000},{"t":21.6,"v":90000},{"t":21.7,"v":70000},{"t":21.8,"v":95000},{"t":21.9,"v":75000},{"t":22.0,"v":85000},{"t":22.1,"v":70000},{"t":22.2,"v":88000},{"t":22.3,"v":72000},{"t":22.4,"v":80000},{"t":22.5,"v":65000},{"t":22.6,"v":78000},{"t":22.7,"v":57000},{"t":22.8,"v":70000},{"t":22.9,"v":45000},{"t":22.95,"v":40000},{"t":23.0,"v":20000},{"t":23.05,"v":55000},{"t":23.15,"v":70000},{"t":23.24,"v":57000},{"t":23.35,"v":75000},{"t":23.45,"v":45000},{"t":23.5,"v":62000},{"t":23.58,"v":80000},{"t":23.66,"v":70000}
    ]
  },
  "vconcat": [
    {
      "width": 563,
      "height": 83,
      "layer": [
        {
          "mark": {"type": "rule", "color": "#808080", "strokeWidth": 2},
          "encoding": {"y": {"datum": 0, "type": "quantitative", "scale": {"domain": [-6, 6], "nice": false, "zero": false}, "axis": null}}
        },
        {
          "data": {"name": "bt"},
          "mark": {"type": "line", "color": "black", "strokeWidth": 1, "invalid": "break-paths-show-domains"},
          "encoding": {
            "x": {"field": "t", "type": "quantitative", "scale": {"domain": [0, 24], "nice": false, "zero": false}, "axis": {"values": [0,2,4,6,8,10,12,14,16,18,20,22,24], "labels": false, "title": null}},
            "y": {"field": "v", "type": "quantitative", "axis": {"values": [-6,-4,-2,0,2,4,6], "title": "Bt,Bz", "titleAngle": 0, "titleX": -39, "titleY": 41.5, "titleAlign": "center", "titleBaseline": "middle"}}
          }
        },
        {
          "data": {"name": "bz"},
          "mark": {"type": "line", "color": "#ff0000", "strokeWidth": 1, "invalid": "break-paths-show-domains"},
          "encoding": {
            "x": {"field": "t", "type": "quantitative", "axis": null},
            "y": {"field": "v", "type": "quantitative", "axis": null}
          }
        },
        {
          "mark": {"type": "point", "opacity": 0},
          "encoding": {
            "x": {"datum": 0, "type": "quantitative", "axis": {"orient": "top", "values": [0,2,4,6,8,10,12,14,16,18,20,22,24], "labels": false, "title": null}},
            "y": {"datum": 0, "type": "quantitative", "axis": {"orient": "right", "values": [-6,-4,-2,0,2,4,6], "labels": false, "title": null}}
          }
        }
      ],
      "resolve": {"axis": {"x": "independent", "y": "independent"}}
    },
    {
      "width": 563,
      "height": 83,
      "layer": [
        {
          "mark": {"type": "rule", "color": "#b47878", "strokeWidth": 2, "strokeDash": [10, 5]},
          "encoding": {"y": {"datum": 225, "type": "quantitative", "scale": {"domain": [45, 405], "nice": false, "zero": false}, "axis": null}}
        },
        {
          "data": {"name": "phi"},
          "mark": {"type": "square", "size": 5, "filled": true, "opacity": 1},
          "encoding": {
            "x": {"field": "t", "type": "quantitative", "scale": {"domain": [0, 24], "nice": false, "zero": false}, "axis": {"values": [0,2,4,6,8,10,12,14,16,18,20,22,24], "labels": false, "title": null}},
            "y": {"field": "v", "type": "quantitative", "axis": {"values": [45,135,225,315,405], "title": ["T", "Phi", "A"], "titleLineHeight": 21, "titleAngle": 0, "titleX": -44, "titleY": 20.5, "titleAlign": "center", "titleBaseline": "middle"}},
            "color": {"field": "c", "type": "nominal", "scale": {"domain": ["g", "b", "a"], "range": ["#c0c0c0", "#87cefa", "#ff80ff"]}, "legend": null}
          }
        },
        {
          "mark": {"type": "point", "opacity": 0},
          "encoding": {
            "x": {"datum": 0, "type": "quantitative", "axis": {"orient": "top", "values": [0,2,4,6,8,10,12,14,16,18,20,22,24], "labels": false, "title": null}},
            "y": {"datum": 225, "type": "quantitative", "axis": {"orient": "right", "values": [45,135,225,315,405], "labels": false, "title": null}}
          }
        }
      ],
      "resolve": {"axis": {"x": "independent", "y": "independent"}}
    },
    {
      "width": 563,
      "height": 83,
      "layer": [
        {
          "data": {"name": "n"},
          "mark": {"type": "line", "color": "#ff00ff", "strokeWidth": 1},
          "encoding": {
            "x": {"field": "t", "type": "quantitative", "scale": {"domain": [0, 24], "nice": false, "zero": false}, "axis": {"values": [0,2,4,6,8,10,12,14,16,18,20,22,24], "labels": false, "title": null}},
            "y": {"field": "v", "type": "quantitative", "scale": {"type": "log", "domain": [0.1, 10], "nice": false}, "axis": {"values": [0.1, 1, 10], "format": "~g", "title": "N", "titleAngle": 0, "titleX": -47, "titleY": 41.5, "titleAlign": "center", "titleBaseline": "middle"}}
          }
        },
        {
          "mark": {"type": "rule", "color": "#8b0000", "strokeWidth": 1.2, "strokeDash": [7, 5]},
          "encoding": {"y": {"datum": 1, "type": "quantitative", "axis": null}}
        },
        {
          "mark": {"type": "point", "opacity": 0},
          "encoding": {
            "y": {"datum": 1, "type": "quantitative", "axis": {"orient": "left", "values": [0.2,0.3,0.4,0.5,0.6,0.7,0.8,0.9,2,3,4,5,6,7,8,9], "labels": false, "title": null, "tickSize": 4, "offset": -4, "tickColor": "#808080"}}
          }
        },
        {
          "mark": {"type": "point", "opacity": 0},
          "encoding": {
            "x": {"datum": 0, "type": "quantitative", "axis": {"orient": "top", "values": [0,2,4,6,8,10,12,14,16,18,20,22,24], "labels": false, "title": null}},
            "y": {"datum": 1, "type": "quantitative", "axis": {"orient": "right", "values": [0.1, 1, 10], "labels": false, "title": null}}
          }
        }
      ],
      "resolve": {"axis": {"x": "independent", "y": "independent"}}
    },
    {
      "width": 563,
      "height": 83,
      "layer": [
        {
          "data": {"name": "vel"},
          "mark": {"type": "line", "color": "#0000ff", "strokeWidth": 1},
          "encoding": {
            "x": {"field": "t", "type": "quantitative", "scale": {"domain": [0, 24], "nice": false, "zero": false}, "axis": {"values": [0,2,4,6,8,10,12,14,16,18,20,22,24], "labels": false, "title": null}},
            "y": {"field": "v", "type": "quantitative", "scale": {"domain": [300, 500], "nice": false, "zero": false}, "axis": {"values": [300, 400, 500], "title": "V", "titleAngle": 0, "titleX": -47, "titleY": 41.5, "titleAlign": "center", "titleBaseline": "middle"}}
          }
        },
        {
          "mark": {"type": "point", "opacity": 0},
          "encoding": {
            "x": {"datum": 0, "type": "quantitative", "axis": {"orient": "top", "values": [0,2,4,6,8,10,12,14,16,18,20,22,24], "labels": false, "title": null}},
            "y": {"datum": 400, "type": "quantitative", "axis": {"orient": "right", "values": [300, 400, 500], "labels": false, "title": null}}
          }
        }
      ],
      "resolve": {"axis": {"x": "independent", "y": "independent"}}
    },
    {
      "width": 563,
      "height": 83,
      "layer": [
        {
          "data": {"name": "temp"},
          "mark": {"type": "line", "color": "#00ff00", "strokeWidth": 1},
          "encoding": {
            "x": {"field": "t", "type": "quantitative", "scale": {"domain": [0, 24], "nice": false, "zero": false}, "axis": {"values": [0,2,4,6,8,10,12,14,16,18,20,22,24], "labelExpr": "datum.value == 24 ? '0' : datum.label", "labelPadding": 6, "title": "UT", "titlePadding": 6}},
            "y": {"field": "v", "type": "quantitative", "scale": {"type": "log", "domain": [10000, 1000000], "nice": false}, "axis": {"values": [10000, 100000, 1000000], "labelExpr": "datum.value == 1000000 ? '1e+6' : datum.value == 100000 ? '1e+5' : '1e+4'", "title": "T", "titleAngle": 0, "titleX": -48, "titleY": 41.5, "titleAlign": "center", "titleBaseline": "middle"}}
          }
        },
        {
          "mark": {"type": "rule", "color": "#c08080", "strokeWidth": 2, "strokeDash": [10, 5]},
          "encoding": {"y": {"datum": 100000, "type": "quantitative", "axis": null}}
        },
        {
          "mark": {"type": "point", "opacity": 0},
          "encoding": {
            "y": {"datum": 100000, "type": "quantitative", "axis": {"orient": "left", "values": [20000,30000,40000,50000,60000,70000,80000,90000,200000,300000,400000,500000,600000,700000,800000,900000], "labels": false, "title": null, "tickSize": 4, "offset": -4, "tickColor": "#808080"}}
          }
        },
        {
          "mark": {"type": "point", "opacity": 0},
          "encoding": {
            "x": {"datum": 0, "type": "quantitative", "axis": {"orient": "top", "values": [0,2,4,6,8,10,12,14,16,18,20,22,24], "labels": false, "title": null}},
            "y": {"datum": 100000, "type": "quantitative", "axis": {"orient": "right", "values": [10000, 100000, 1000000], "labels": false, "title": null}}
          }
        }
      ],
      "resolve": {"axis": {"x": "independent", "y": "independent"}}
    }
  ],
  "spacing": 11,
  "bounds": "flush",
  "config": {
    "view": {"stroke": "black", "strokeWidth": 1},
    "axis": {
      "grid": false,
      "domain": false,
      "ticks": true,
      "tickSize": 5,
      "offset": -5,
      "tickColor": "black",
      "tickWidth": 1,
      "labelFont": "DejaVu Sans",
      "labelFontSize": 10,
      "labelColor": "black",
      "labelPadding": 4,
      "labelFlush": false,
      "labelOverlap": false,
      "titleFont": "DejaVu Sans",
      "titleFontSize": 10,
      "titleFontWeight": "normal",
      "titleColor": "black"
    }
  }
}
